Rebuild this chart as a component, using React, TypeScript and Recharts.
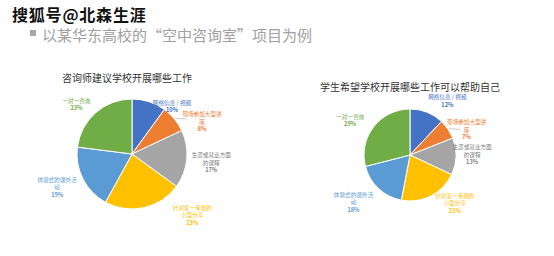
import React from 'react';
import { PieChart, Pie, Cell } from 'recharts';

// wrapped label lines, as they appear next to each slice
const labelLines = [
  ['网络信息 / 视频'],
  ['现场参加大型讲', '座'],
  ['生涯或就业方面', '的课程'],
  ['针对某一专题的', '小型分享'],
  ['体验式的课外活', '动'],
  ['一对一咨询'],
];
const categories = labelLines.map(l => l.join(''));

const counselorValues = [10, 8, 17, 23, 19, 23];
const studentValues = [12, 7, 13, 21, 18, 29];

const colors = ['#4472C4', '#ED7D31', '#A5A5A5', '#FFC000', '#5B9BD5', '#70AD47'];
const textColors = ['#4472C4', '#ED7D31', '#7F7F7F', '#FFC000', '#5B9BD5', '#70AD47'];

// label placement: [angle nudge clockwise (deg), radius factor]
const leftLabelPos = [[22, 1.13], [15, 1.4], [1, 1.45], [-32, 1.56], [3, 1.49], [-7, 1.35]];
const rightLabelPos = [[13, 1.43], [10, 1.35], [-2, 1.35], [-16, 1.43], [7, 1.6], [-8, 1.5]];

const RAD = Math.PI / 180;
const FONT = '"Noto Sans CJK SC", "Noto Sans", sans-serif';

const toData = (values: number[]) => categories.map((name, i) => ({ name, value: values[i] }));

const makeLabel = (pos: number[][]) => (props: any) => {
  const { cx, cy, midAngle, outerRadius, index, percent } = props;
  const [nudge, factor] = pos[index];
  const a = (midAngle - nudge) * RAD;
  const r = outerRadius * factor;
  const x = cx + r * Math.cos(a);
  const y = cy - r * Math.sin(a);
  const lines = [...labelLines[index], `${Math.round(percent * 100)}%`];
  const lh = 7.5;
  const y0 = y - ((lines.length - 1) * lh) / 2;
  const color = textColors[index];
  let leader = null;
  if (index === 1) {
    const ma = midAngle * RAD;
    const sa = (midAngle - 7) * RAD;
    leader = (
      <line
        x1={cx + (outerRadius + 1) * Math.cos(ma)}
        y1={cy - (outerRadius + 1) * Math.sin(ma)}
        x2={cx + (outerRadius + 10) * Math.cos(sa)}
        y2={cy - (outerRadius + 10) * Math.sin(sa)}
        stroke="#A6A6A6"
        strokeWidth={0.6}
      />
    );
  }
  return (
    <g>
      {leader}
      <text x={x} y={y0} textAnchor="middle" fill={color} fontSize={5.6} fontFamily={FONT}>
        {lines.map((t, i) => (
          <tspan
            key={i}
            x={x}
            dy={i === 0 ? 0 : lh}
            dominantBaseline="central"
            fontWeight={i === lines.length - 1 ? 700 : 400}
          >
            {t}
          </tspan>
        ))}
      </text>
    </g>
  );
};

export default function App() {
  return (
    <div style={{ position: 'absolute', left: 0, top: 0, width: 554, height: 256, background: '#fff', overflow: 'hidden' }}>
      <div style={{ position: 'absolute', left: 12, top: 3, fontFamily: FONT, fontSize: 16, fontWeight: 700, color: '#111', lineHeight: '22px', letterSpacing: 0.8, whiteSpace: 'nowrap' }}>
        搜狐号@北森生涯
      </div>
      <div style={{ position: 'absolute', left: 30, top: 30, width: 6, height: 6, background: '#A6A6A6' }} />
      <div style={{ position: 'absolute', left: 42, top: 25, fontFamily: FONT, fontSize: 15, color: '#A0A0A0', lineHeight: '20px', whiteSpace: 'nowrap' }}>
        以某华东高校的“空中咨询室”项目为例
      </div>
      <div style={{ position: 'absolute', left: 62, top: 71, fontFamily: FONT, fontSize: 10, color: '#333', lineHeight: '14px', whiteSpace: 'nowrap' }}>
        咨询师建议学校开展哪些工作
      </div>
      <div style={{ position: 'absolute', left: 320, top: 80, fontFamily: FONT, fontSize: 10, color: '#333', lineHeight: '14px', whiteSpace: 'nowrap' }}>
        学生希望学校开展哪些工作可以帮助自己
      </div>
      <div style={{ position: 'absolute', left: 0, top: 0 }}>
        <PieChart width={554} height={256} margin={{ top: 0, right: 0, bottom: 0, left: 0 }}>
          <Pie
            data={toData(counselorValues)}
            dataKey="value"
            nameKey="name"
            cx={132}
            cy={154}
            outerRadius={55}
            startAngle={90}
            endAngle={-270}
            stroke="#fff"
            strokeWidth={1}
            label={makeLabel(leftLabelPos)}
            labelLine={false}
            isAnimationActive={false}
          >
            {counselorValues.map((_, i) => (
              <Cell key={i} fill={colors[i]} />
            ))}
          </Pie>
          <Pie
            data={toData(studentValues)}
            dataKey="value"
            nameKey="name"
            cx={410}
            cy={155}
            outerRadius={46}
            startAngle={90}
            endAngle={-270}
            stroke="#fff"
            strokeWidth={1}
            label={makeLabel(rightLabelPos)}
            labelLine={false}
            isAnimationActive={false}
          >
            {studentValues.map((_, i) => (
              <Cell key={i} fill={colors[i]} />
            ))}
          </Pie>
        </PieChart>
      </div>
    </div>
  );
}
